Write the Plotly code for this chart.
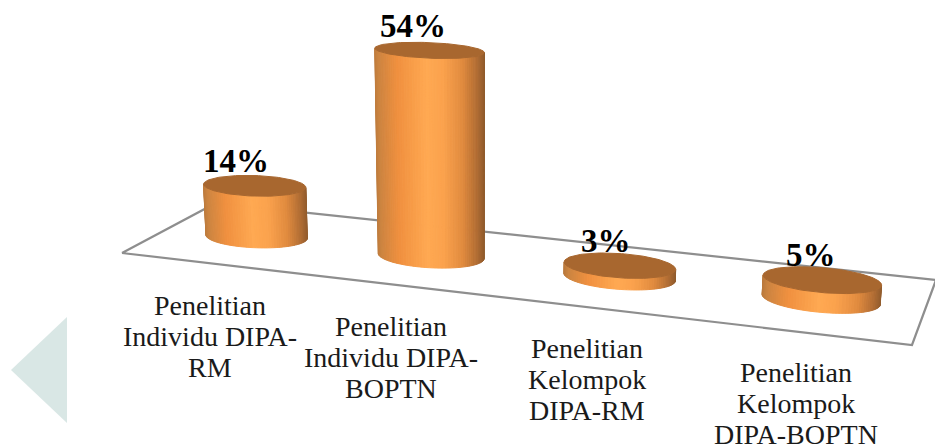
import numpy as np
import plotly.graph_objects as go

# ---- chart data ----
categories = ["Penelitian<br>Individu DIPA-<br>RM",
              "Penelitian<br>Individu DIPA-<br>BOPTN",
              "Penelitian<br>Kelompok<br>DIPA-RM",
              "Penelitian<br>Kelompok<br>DIPA-BOPTN"]
values = [14, 54, 3, 5]
value_labels = ["14%", "54%", "3%", "5%"]

# ---- projection of the floor/value space to the picture ----
W, H_PX = 935, 446
floor_uv = [(0, 0), (1, 0), (1, 1), (0, 1)]
floor_px = [(122, 253), (912, 345), (936, 280), (216, 203)]
category_u = [0.125, 0.3705, 0.6215, 0.875]
VERT_VP = (475.0, 6000.0)
HEIGHT_PER_VALUE = 0.00064
RU, RV = 0.0700, 0.195


def homography(src, dst):
    A = []
    for (a, b), (x, y) in zip(src, dst):
        A.append([a, b, 1, 0, 0, 0, -a * x, -b * x, -x])
        A.append([0, 0, 0, a, b, 1, -a * y, -b * y, -y])
    return np.linalg.svd(np.array(A, float))[2][-1].reshape(3, 3)


HM = homography(floor_uv, floor_px)
HM = HM / (HM @ np.array([0.375, 0.5, 1.0]))[2]


def project(u, v, val=0.0):
    p = HM @ np.array([u, v, 1.0])
    s = -HEIGHT_PER_VALUE * val
    p = p + s * np.array([VERT_VP[0], VERT_VP[1], 1.0])
    return p[0] / p[2], p[1] / p[2]


stops_t = [0.0, 0.05, 0.22, 0.48, 0.62, 0.80, 0.93, 1.0]
stops_c = [(0xB8, 0x78, 0x3C), (0xCC, 0x84, 0x40), (0xF0, 0x90, 0x3F), (0xFF, 0xA9, 0x52),
           (0xFB, 0xA2, 0x4D), (0xE0, 0x8A, 0x3E), (0xB0, 0x6C, 0x33), (0x8E, 0x5A, 0x2C)]
TOP_COLOR = "#A8672F"


def shade(t):
    return "rgb(%d,%d,%d)" % tuple(int(round(np.interp(t, stops_t, [c[i] for c in stops_c]))) for i in range(3))


fig = go.Figure()
fx, fy = zip(*[project(u, v) for u, v in floor_uv + floor_uv[:1]])
fig.add_trace(go.Scatter(x=fx, y=fy, mode="lines", line=dict(color="#8E8E8E", width=2.2),
                         hoverinfo="skip", showlegend=False))

annotations = []
TH = np.linspace(0, 2 * np.pi, 121)
for i, (cat, val, lab) in enumerate(zip(categories, values, value_labels)):
    uc, vc = category_u[i], 0.5
    ru = RU * (0.98 + 0.05 * uc)
    base = [project(uc + ru * np.cos(t), vc + RV * np.sin(t), 0) for t in TH]
    top = [project(uc + ru * np.cos(t), vc + RV * np.sin(t), val) for t in TH]
    quads = []
    for k in range(len(TH) - 1):
        poly = [base[k], base[k + 1], top[k + 1], top[k]]
        xs = np.array([p[0] for p in poly]); ys = np.array([p[1] for p in poly])
        area = 0.5 * np.sum(xs * np.roll(ys, -1) - np.roll(xs, -1) * ys)
        if area < 0:   # faces the viewer (y axis points down on screen)
            quads.append((xs, ys))
    xmin = min(q[0].min() for q in quads); xmax = max(q[0].max() for q in quads)
    quads.sort(key=lambda q: q[1].max())
    for xs, ys in quads:
        col = shade((xs.mean() - xmin) / (xmax - xmin))
        fig.add_trace(go.Scatter(x=list(xs) + [xs[0]], y=list(ys) + [ys[0]], mode="lines", fill="toself",
                                 fillcolor=col, line=dict(color=col, width=1),
                                 hoverinfo="skip", showlegend=False))
    fig.add_trace(go.Scatter(x=[p[0] for p in top], y=[p[1] for p in top], mode="lines", fill="toself",
                             fillcolor=TOP_COLOR, line=dict(color=TOP_COLOR, width=1),
                             hoverinfo="skip", showlegend=False))
    tx, ty = project(uc, vc, val)
    annotations.append(dict(x=tx - 19 + 2.7 * i, y=ty - 24.5, text=lab, xref="x", yref="y", showarrow=False,
                            xanchor="center", yanchor="middle",
                            font=dict(family="Liberation Serif", size=33, color="#000000", weight="bold")))
    bx, by = project(uc, vc, 0)
    for j, line in enumerate(cat.split("<br>")):
        annotations.append(dict(x=bx - 47 + 7.3 * i, y=by + 69 + 1.5 * i + 31 * j, text=line, xref="x", yref="y",
                                showarrow=False, xanchor="center", yanchor="middle",
                                font=dict(family="Liberation Serif", size=28, color="#1a1a1a")))

fig.update_layout(
    width=W, height=H_PX, margin=dict(l=0, r=0, t=0, b=0),
    paper_bgcolor="white", plot_bgcolor="white",
    xaxis=dict(range=[0, W], visible=False, fixedrange=True),
    yaxis=dict(range=[H_PX, 0], visible=False, fixedrange=True),
    annotations=annotations,
    shapes=[dict(type="path", xref="x", yref="y", path="M 67 317 L 67 423 L 11 370 Z",
                 fillcolor="#D9E7E5", line=dict(width=0), layer="below")],
)
fig.write_html("out.html", config={"displayModeBar": False},
               post_script="document.body.style.margin='0';document.documentElement.style.overflow='hidden';")
